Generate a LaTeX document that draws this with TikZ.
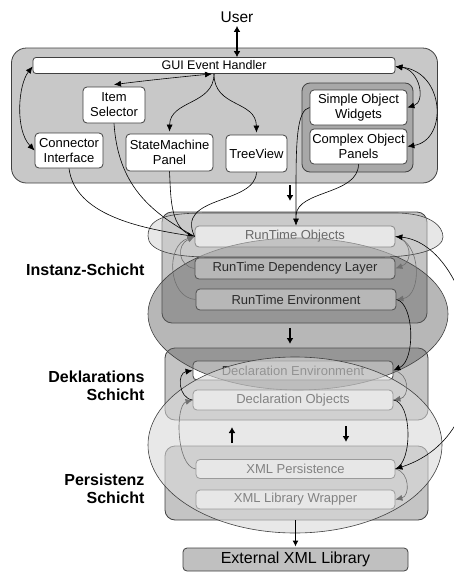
\documentclass[tikz,border=0pt]{standalone}
\usepackage{fontspec}
\setmainfont{Liberation Sans}
\usetikzlibrary{arrows.meta}

\definecolor{edge}{HTML}{404040}
\definecolor{topfill}{HTML}{C8C8C8}
\definecolor{groupfill}{HTML}{A8A8A8}
\definecolor{layerfill}{HTML}{C4C4C4}
\definecolor{extfill}{HTML}{C0C0C0}
\definecolor{lighthalo}{HTML}{D0D0D0}
\definecolor{darkhalo}{HTML}{606060}
\definecolor{palehalo}{HTML}{D8D8D8}
\definecolor{loopgray}{HTML}{707070}

\begin{document}
\begin{tikzpicture}[x=1pt,y=-1pt,
  every node/.style={font=\fontsize{13}{15}\selectfont},
  frame/.style={draw=edge, line width=0.8pt, inner sep=0pt},
  wbox/.style={frame, fill=white, rounded corners=4pt, align=center},
  layerbox/.style={frame, fill=layerfill, rounded corners=10pt},
  tip/.style={-{Latex[length=7pt,width=6pt]}},
  dtip/.style={{Latex[length=7pt,width=6pt]}-{Latex[length=7pt,width=6pt]}},
  gtip/.style={draw=loopgray, -{Latex[length=7pt,width=6pt,fill=loopgray]}},
  conn/.style={line width=0.6pt},
  bigarrow/.style={line width=2.2pt, -{Latex[length=6pt,width=7pt]}},
  bigdarrow/.style={line width=2.2pt, {Latex[length=6pt,width=7pt]}-{Latex[length=6pt,width=7pt]}},
  halo/.style={draw=edge, line width=0.6pt},
  layerlabel/.style={font=\bfseries\fontsize{16}{18}\selectfont, align=right, anchor=east}
]
\useasboundingbox (0,0) rectangle (453,573);

% ---------- GUI layer ----------
\node[frame, fill=topfill, rounded corners=15pt, minimum width=426pt, minimum height=135pt] (gui layer) at (224.5,115.5) {};
\node[frame, fill=groupfill, rounded corners=8pt, minimum width=111pt, minimum height=89pt] (widgets) at (357.5,127.5) {};
\node[wbox, rounded corners=3pt, minimum width=362pt, minimum height=16pt, font=\fontsize{12.5}{14}\selectfont] (gui) at (214,65.5) {GUI Event Handler};
\node[wbox, minimum width=62pt, minimum height=36pt] (is) at (114,105) {Item\\Selector};
\node[wbox, minimum width=68pt, minimum height=35pt] (ci) at (69,150.5) {Connector\\Interface};
\node[wbox, minimum width=87pt, minimum height=37pt] (sm) at (169.5,152.5) {StateMachine\\Panel};
\node[wbox, minimum width=61pt, minimum height=37pt] (tv) at (256.5,153.5) {TreeView};
\node[wbox, minimum width=97pt, minimum height=35pt] (sow) at (358.5,107.5) {Simple Object\\Widgets};
\node[wbox, minimum width=97pt, minimum height=35pt] (cop) at (358.5,146.5) {Complex Object\\Panels};

\node[font=\fontsize{15.5}{17}\selectfont] (user) at (237,17) {User};

% ---------- layer boxes with their components ----------
\node[layerbox, minimum width=265pt, minimum height=111pt] (inst) at (294.5,267.5) {};
\node[layerbox, minimum width=263pt, minimum height=72pt] (dekl) at (296.5,384) {};
\node[layerbox, minimum width=263pt, minimum height=74pt] (pers) at (296.5,483) {};

\node[wbox, minimum width=200pt, minimum height=21pt] (rto) at (295,236.5) {RunTime Objects};
\node[wbox, minimum width=200pt, minimum height=21pt] (rtdl) at (295,268.5) {RunTime Dependency Layer};
\node[wbox, minimum width=200pt, minimum height=21pt] (rte) at (296,299.5) {RunTime Environment};
\node[wbox, minimum width=200pt, minimum height=19pt] (de) at (293,370.5) {Declaration Environment};
\node[wbox, minimum width=200pt, minimum height=20pt] (do) at (293,400) {Declaration Objects};
\node[wbox, minimum width=199pt, minimum height=19pt] (xmlp) at (295.5,469) {XML Persistence};
\node[wbox, minimum width=199pt, minimum height=19pt] (xlw) at (295.5,499.5) {XML Library Wrapper};

% ---------- translucent groupings ----------
\fill[darkhalo, fill opacity=0.45] (298,314) ellipse [x radius=150pt, y radius=76pt];
\draw[halo] (298,314) ellipse [x radius=150pt, y radius=76pt];
\path[halo, fill=lighthalo, fill opacity=0.5]
  (148,236) .. controls (148,215) and (175,213) .. (210,213) -- (395,213)
  .. controls (430,213) and (443,226) .. (443,237)
  .. controls (443,248) and (420,257) .. (380,257) -- (210,257)
  .. controls (170,257) and (148,250) .. (148,236) -- cycle;
\fill[palehalo, fill opacity=0.6] (295,445) ellipse [x radius=147pt, y radius=88pt];
\draw[halo] (295,445) ellipse [x radius=147pt, y radius=88pt];

% ---------- external library ----------
\node[frame, fill=extfill, rounded corners=4pt, minimum width=225pt, minimum height=23pt, font=\fontsize{16}{18}\selectfont] (ext) at (295.5,559.5) {External XML Library};

% ---------- layer labels ----------
\node[layerlabel] (lblinst) at (148,270) {Instanz-Schicht};
\node[layerlabel] (lbldekl) at (148,386) {Deklarations\\Schicht};
\node[layerlabel] (lblpers) at (148,488.5) {Persistenz\\Schicht};

% ---------- connectors inside the GUI layer ----------
\draw[bigdarrow] (user.south) -- (gui.north -| user.south);
\draw[conn, dtip] ([yshift=-1pt]gui.west) .. controls (18,85) and (15,130) .. (ci.west);
\draw[conn, dtip] ([yshift=2pt]is.north) .. controls (150,80) and (190,76) .. ([xshift=-2pt]gui.south);
\draw[conn, tip] (gui.south) .. controls (214,105) and (170,100) .. ([yshift=2pt]sm.north);
\draw[conn, tip] (gui.south) .. controls (214,108) and (256,100) .. ([yshift=2pt]tv.north);
\draw[conn, dtip] ([yshift=-1pt]gui.east) .. controls (420,70) and (426,102) .. (sow.east);
\draw[conn, dtip] ([yshift=-1pt]gui.east) .. controls (445,72) and (448,140) .. (cop.east);

% ---------- GUI components feeding the runtime objects ----------
\draw[conn] (is.south) .. controls (118,185) and (150,212) .. (rto.west);
\draw[conn] (sm.south) .. controls (171,200) and (170,230) .. (rto.west);
\draw[conn] (tv.south) .. controls (255,205) and (175,195) .. (rto.west);
\draw[conn, tip] (ci.south) .. controls (75,215) and (140,228) .. (rto.west);
\draw[conn, tip] (sow.west) .. controls (297,110) and (296,140) .. (296,190) -- ([xshift=1pt]rto.north);
\draw[conn] (cop.south) .. controls (358,195) and (298,190) .. (296,215);

% ---------- flow between the layers ----------
\coordinate (g2i) at (290,185);
\coordinate (g2ie) at (290,201);
\coordinate (i2d) at (290,328);
\coordinate (i2de) at (290,344);
\coordinate (p2d) at (232,443);
\coordinate (p2de) at (232,427);
\coordinate (d2p) at (346,426);
\coordinate (d2pe) at (346,442);
\draw[bigarrow] (g2i) -- (g2ie);
\draw[bigarrow] (i2d) -- (i2de);
\draw[bigarrow] (p2d) -- (p2de);
\draw[bigarrow] (d2p) -- (d2pe);
\draw[line width=1.4pt, -{Latex[length=6pt,width=6pt]}] (pers.south -| xlw.south) -- ([yshift=1pt]ext.north);

% ---------- loops inside the layers ----------
\draw[conn, gtip] (rtdl.west) .. controls (178,266) and (176,245) .. (rto.west);
\draw[conn, gtip] (rte.west) .. controls (168,298) and (165,245) .. (rto.west);
\draw[conn, gtip] (rto.east) .. controls (412,240) and (413,262) .. (rtdl.east);
\draw[conn, gtip] (rto.east) .. controls (422,242) and (422,296) .. (rte.east);
\draw[conn, dtip] (rto.east) .. controls (475,245) and (515,430) .. (xmlp.east);
\draw[conn, tip] (rte.east) .. controls (414,303) and (416,360) .. (de.east);
\draw[conn, gtip] (de.east) .. controls (410,373) and (410,397) .. (do.east);
\draw[conn] (do.east) .. controls (412,402) and (413,462) .. (xmlp.east);
\draw[conn, gtip] (xmlp.east) .. controls (410,472) and (410,496) .. (xlw.east);
\draw[conn, tip] (do.west) .. controls (178,398) and (177,373) .. (de.west);
\draw[conn, gtip] (xmlp.west) .. controls (176,466) and (175,405) .. (do.west);
\end{tikzpicture}
\end{document}
